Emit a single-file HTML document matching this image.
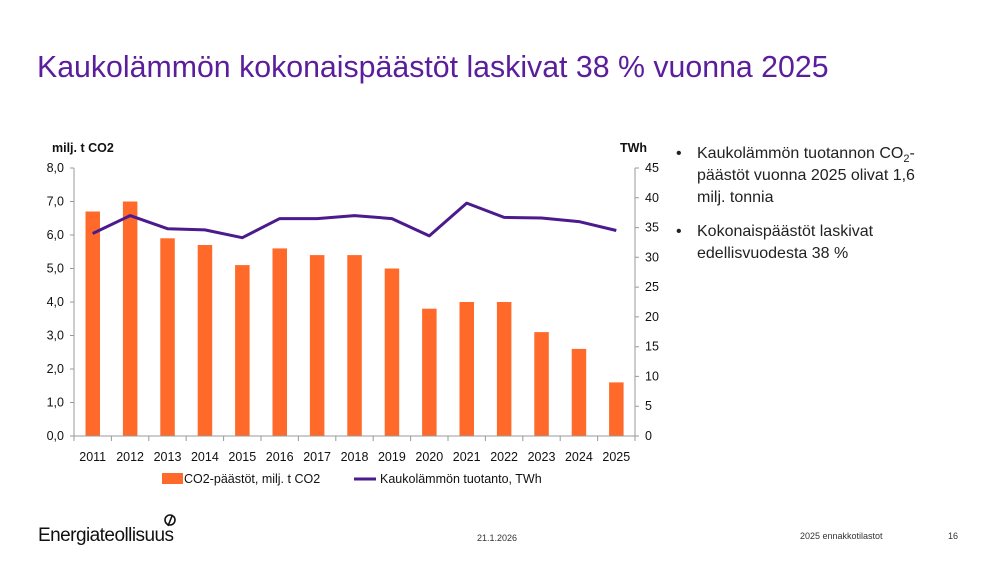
<!DOCTYPE html><html><head><meta charset="utf-8"><style>body{margin:0;background:#fff}svg{display:block;font-family:"Liberation Sans",sans-serif}</style></head><body>
<svg width="1000" height="562" viewBox="0 0 1000 562" xmlns="http://www.w3.org/2000/svg">
<text x="37" y="77" font-size="30.3" fill="#5a1e9c">Kaukolämmön kokonaispäästöt laskivat 38 % vuonna 2025</text>
<text x="52" y="152" font-size="12.5" font-weight="bold" fill="#111">milj. t CO2</text>
<text x="620" y="152" font-size="12.5" font-weight="bold" fill="#111">TWh</text>
<g fill="#ff6a2b">
<rect x="85.5" y="211.5" width="14.5" height="224.5"/><rect x="122.9" y="201.5" width="14.5" height="234.5"/><rect x="160.3" y="238.3" width="14.5" height="197.7"/><rect x="197.7" y="245" width="14.5" height="191"/><rect x="235.1" y="265.1" width="14.5" height="170.9"/><rect x="272.5" y="248.4" width="14.5" height="187.6"/><rect x="309.9" y="255.1" width="14.5" height="180.9"/><rect x="347.3" y="255.1" width="14.5" height="180.9"/><rect x="384.7" y="268.5" width="14.5" height="167.5"/><rect x="422.1" y="308.7" width="14.5" height="127.3"/><rect x="459.5" y="302" width="14.5" height="134"/><rect x="496.9" y="302" width="14.5" height="134"/><rect x="534.3" y="332.1" width="14.5" height="103.9"/><rect x="571.7" y="348.9" width="14.5" height="87.1"/><rect x="609.1" y="382.4" width="14.5" height="53.6"/>
</g>
<g stroke="#999" stroke-width="1" fill="none">
<line x1="74" y1="168" x2="74" y2="436"/><line x1="635" y1="168" x2="635" y2="436"/><line x1="74" y1="436" x2="635" y2="436"/>
<path d="M70 168H74M70 201.5H74M70 235H74M70 268.5H74M70 302H74M70 335.5H74M70 369H74M70 402.5H74M70 436H74"/>
<path d="M635 168H639M635 197.8H639M635 227.6H639M635 257.3H639M635 287.1H639M635 316.9H639M635 346.7H639M635 376.4H639M635 406.2H639M635 436H639"/>
<path d="M74 436V441M111.4 436V441M148.8 436V441M186.2 436V441M223.6 436V441M261 436V441M298.4 436V441M335.8 436V441M373.2 436V441M410.6 436V441M448 436V441M485.4 436V441M522.8 436V441M560.2 436V441M597.6 436V441M635 436V441"/>
</g>
<polyline fill="none" stroke="#4b1a8c" stroke-width="3" stroke-linejoin="round" points="92.7,233.5 130.1,215.6 167.5,228.7 204.9,229.9 242.3,237.7 279.7,218.6 317.1,218.6 354.5,215.6 391.9,218.6 429.3,235.9 466.7,203.1 504.1,217.4 541.5,218 578.9,221.6 616.3,230.5"/>
<g font-size="12.5" fill="#111" text-anchor="end">
<text x="64" y="172">8,0</text><text x="64" y="205.5">7,0</text><text x="64" y="239">6,0</text><text x="64" y="272.5">5,0</text><text x="64" y="306">4,0</text><text x="64" y="339.5">3,0</text><text x="64" y="373">2,0</text><text x="64" y="406.5">1,0</text><text x="64" y="440">0,0</text>
</g>
<g font-size="12.5" fill="#111">
<text x="645" y="172">45</text><text x="645" y="202">40</text><text x="645" y="231.5">35</text><text x="645" y="261.5">30</text><text x="645" y="291">25</text><text x="645" y="321">20</text><text x="645" y="350.5">15</text><text x="645" y="380.5">10</text><text x="645" y="410">5</text><text x="645" y="440">0</text>
</g>
<g font-size="12.5" fill="#111" text-anchor="middle">
<text x="92.7" y="461">2011</text><text x="130.1" y="461">2012</text><text x="167.5" y="461">2013</text><text x="204.9" y="461">2014</text><text x="242.3" y="461">2015</text><text x="279.7" y="461">2016</text><text x="317.1" y="461">2017</text><text x="354.5" y="461">2018</text><text x="391.9" y="461">2019</text><text x="429.3" y="461">2020</text><text x="466.7" y="461">2021</text><text x="504.1" y="461">2022</text><text x="541.5" y="461">2023</text><text x="578.9" y="461">2024</text><text x="616.3" y="461">2025</text>
</g>
<rect x="162" y="473" width="21" height="11" fill="#ff6a2b"/>
<text x="184" y="483" font-size="12.5" fill="#111">CO2-päästöt, milj. t CO2</text>
<line x1="354" y1="479" x2="376" y2="479" stroke="#4b1a8c" stroke-width="3"/>
<text x="380" y="483" font-size="12.5" fill="#111">Kaukolämmön tuotanto, TWh</text>
<g font-size="16" fill="#222">
<text x="676" y="158">•</text><text x="697" y="158">Kaukolämmön tuotannon CO<tspan font-size="11" dy="4">2</tspan><tspan dy="-4">-</tspan></text>
<text x="697" y="180">päästöt vuonna 2025 olivat 1,6</text>
<text x="697" y="202">milj. tonnia</text>
<text x="676" y="236">•</text><text x="697" y="236">Kokonaispäästöt laskivat</text>
<text x="697" y="258">edellisvuodesta 38 %</text>
</g>
<text x="38" y="541" font-size="19" fill="#111" textLength="136">Energiateollisuus</text>
<circle cx="170" cy="520" r="5" fill="none" stroke="#111" stroke-width="1.6"/><line x1="172" y1="516" x2="168" y2="526" stroke="#111" stroke-width="1.6"/>
<text x="477" y="541" font-size="9" fill="#333">21.1.2026</text>
<text x="800" y="539" font-size="9" fill="#333">2025 ennakkotilastot</text>
<text x="948" y="539" font-size="9" fill="#333">16</text>
</svg>
</body></html>
